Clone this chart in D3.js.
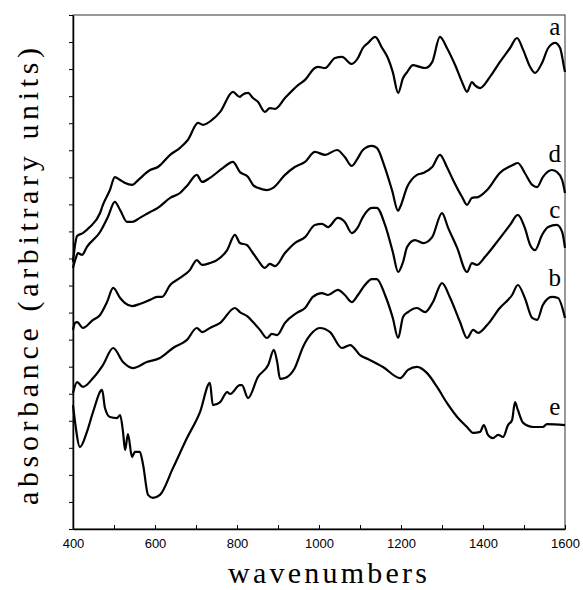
<!DOCTYPE html>
<html>
<head>
<meta charset="utf-8">
<script src="https://cdn.jsdelivr.net/npm/d3@7"></script>
<style>
  body { margin: 0; background: #fff; }
  .axis path, .axis line { stroke: #000; }
  .axis text { font-family: "Liberation Sans", Arial, sans-serif; font-size: 13px; fill: #000; }
</style>
</head>
<body>
<script>
// spectra, [wavenumber, absorbance]
const curveA = [[400,9.87],[405,10.50],[410,10.83],[424,10.94],[441,11.16],[466,11.68],[473,11.98],[490,12.53],[502,13.01],[515,12.90],[527,12.79],[544,12.72],[559,12.90],[588,13.27],[607,13.38],[637,13.83],[661,14.09],[680,14.38],[705,15.01],[717,14.94],[739,15.12],[759,15.42],[790,16.16],[807,15.97],[812,16.04],[827,16.12],[839,15.93],[851,15.79],[868,15.42],[880,15.56],[893,15.53],[917,15.93],[949,16.41],[966,16.60],[990,17.04],[998,17.08],[1015,17.04],[1039,17.41],[1056,17.45],[1080,17.19],[1095,17.41],[1107,17.78],[1120,17.97],[1137,18.19],[1154,17.78],[1168,17.41],[1180,16.89],[1193,16.12],[1205,16.67],[1215,16.89],[1229,17.15],[1246,17.08],[1259,17.04],[1276,17.26],[1295,18.19],[1312,17.78],[1332,17.15],[1349,16.52],[1361,16.16],[1373,16.52],[1380,16.41],[1393,16.30],[1417,16.71],[1441,17.26],[1466,17.78],[1483,18.15],[1498,17.71],[1515,17.08],[1527,16.86],[1544,17.23],[1559,17.78],[1576,17.97],[1588,17.78],[1598,17.04],[1600,16.89]];
const curveD = [[400,9.65],[407,10.02],[412,10.20],[422,10.13],[434,10.43],[466,10.98],[485,11.53],[502,12.09],[515,11.79],[532,11.35],[544,11.35],[563,11.50],[588,11.72],[607,11.87],[637,12.24],[661,12.42],[680,12.72],[702,13.09],[715,12.83],[734,12.98],[766,13.35],[790,13.57],[807,13.20],[827,13.01],[839,12.72],[851,12.61],[873,12.53],[888,12.61],[917,13.09],[941,13.38],[966,13.57],[990,13.94],[1015,13.83],[1044,14.01],[1063,13.75],[1080,13.42],[1095,13.72],[1107,14.01],[1129,14.16],[1141,14.09],[1161,13.35],[1178,12.53],[1193,11.76],[1198,11.90],[1215,12.64],[1239,13.09],[1254,13.16],[1276,13.38],[1295,13.83],[1312,13.38],[1327,12.90],[1349,12.27],[1361,11.98],[1373,12.24],[1388,12.27],[1410,12.53],[1441,13.16],[1473,13.46],[1485,13.53],[1502,13.16],[1520,12.72],[1532,12.64],[1546,13.01],[1568,13.27],[1580,13.20],[1593,12.90],[1600,12.42]];
const curveC = [[400,7.36],[405,7.62],[410,7.65],[424,7.43],[449,7.73],[466,7.91],[483,8.39],[498,8.91],[515,8.54],[527,8.35],[544,8.24],[563,8.32],[588,8.47],[605,8.58],[617,8.58],[637,9.02],[661,9.28],[685,9.57],[702,9.94],[715,9.76],[734,9.83],[751,9.94],[776,10.31],[795,10.87],[807,10.57],[824,10.50],[837,10.24],[851,9.94],[868,9.65],[880,9.80],[893,9.72],[917,10.20],[941,10.57],[966,10.79],[990,11.24],[1007,11.28],[1022,11.16],[1046,11.50],[1063,11.35],[1080,10.94],[1095,11.16],[1107,11.53],[1129,11.87],[1141,11.87],[1161,11.24],[1180,10.24],[1193,9.50],[1205,9.87],[1215,10.43],[1234,10.68],[1254,10.57],[1276,10.79],[1300,11.68],[1315,11.13],[1337,10.39],[1361,9.50],[1373,9.83],[1385,9.76],[1405,10.06],[1434,10.61],[1466,11.24],[1485,11.61],[1502,11.13],[1515,10.50],[1527,10.31],[1544,10.87],[1559,11.16],[1580,11.24],[1593,10.98],[1600,10.39]];
const curveB = [[400,5.03],[410,5.43],[424,5.25],[449,5.58],[473,6.06],[498,6.69],[522,6.17],[546,5.95],[580,6.17],[612,6.32],[644,6.69],[678,6.99],[702,7.43],[715,7.28],[734,7.43],[759,7.62],[795,8.17],[807,8.02],[827,7.84],[839,7.65],[856,7.36],[873,7.06],[885,7.21],[898,7.17],[917,7.62],[946,7.99],[966,8.17],[985,8.58],[1007,8.72],[1022,8.65],[1046,8.84],[1063,8.65],[1080,8.39],[1095,8.65],[1112,9.02],[1129,9.24],[1141,9.24],[1161,8.65],[1180,7.80],[1193,7.06],[1205,7.84],[1217,8.02],[1239,8.17],[1259,8.02],[1278,8.39],[1300,9.09],[1320,8.54],[1344,7.65],[1361,7.06],[1376,7.36],[1388,7.25],[1410,7.54],[1441,8.17],[1471,8.65],[1485,9.02],[1502,8.54],[1520,7.80],[1532,7.73],[1546,8.28],[1568,8.58],[1583,8.54],[1600,7.80]];
const curveE = [[400,4.58],[405,3.96],[417,3.03],[434,3.59],[449,4.33],[471,5.14],[478,4.47],[490,4.14],[507,4.10],[515,4.21],[522,3.59],[527,2.92],[534,3.51],[544,2.66],[551,2.85],[563,2.85],[571,2.37],[583,1.26],[595,1.15],[612,1.26],[644,2.26],[678,3.36],[710,4.33],[734,5.40],[741,4.58],[759,4.69],[776,5.06],[783,4.99],[807,5.32],[812,5.32],[827,4.84],[851,5.62],[876,6.06],[890,6.62],[898,6.17],[905,5.55],[917,5.58],[941,5.95],[961,6.73],[985,7.28],[1002,7.43],[1027,7.28],[1056,6.69],[1076,6.80],[1100,6.43],[1124,6.25],[1156,5.99],[1198,5.58],[1217,5.88],[1239,5.99],[1263,5.77],[1288,5.25],[1312,4.66],[1337,4.14],[1361,3.77],[1376,3.55],[1393,3.59],[1402,3.84],[1412,3.48],[1424,3.36],[1437,3.48],[1449,3.40],[1461,3.84],[1471,4.03],[1478,4.69],[1485,4.40],[1498,3.92],[1522,3.77],[1546,3.77],[1556,3.88],[1600,3.84]];

const seriesNames = ["a", "d", "c", "b", "e"];
const seriesData = [curveA, curveD, curveC, curveB, curveE];
// where each letter sits: [wavenumber, absorbance] of its baseline
const labelPos = [[1575,18.25],[1575,13.55],[1575,11.5],[1575,9.0],[1575,4.2]];

const xTicks = d3.range(400, 1601, 100);
const xLabels = [400, 600, 800, 1000, 1200, 1400, 1600];
const yTicks = d3.range(0, 20, 1);

const width = 583, height = 590;
const margin = {left: 73, right: 18, top: 15, bottom: 61};
const serif = "'Liberation Serif', 'Times New Roman', serif";

const svg = d3.select("body").append("svg")
    .attr("width", width)
    .attr("height", height);

const x = d3.scaleLinear().domain([400, 1600]).range([margin.left, width - margin.right]);
const y = d3.scaleLinear().domain([0, 19]).range([height - margin.bottom, margin.top]);

// frame (top and right are thin)
svg.append("rect")
    .attr("x", x(400)).attr("y", y(19))
    .attr("width", x(1600) - x(400)).attr("height", y(0) - y(19))
    .attr("fill", "none").attr("stroke", "#333").attr("stroke-width", 1);

const xAxis = d3.axisBottom(x)
    .tickValues(xTicks)
    .tickSizeInner(-4)
    .tickSizeOuter(0)
    .tickPadding(10)
    .tickFormat(d => xLabels.includes(d) ? d : "");

svg.append("g")
    .attr("class", "axis")
    .attr("transform", `translate(0, ${y(0)})`)
    .call(xAxis)
    .call(g => g.select(".domain").attr("stroke-width", 1.5));

const yAxis = d3.axisLeft(y)
    .tickValues(yTicks)
    .tickSizeInner(4)
    .tickSizeOuter(0)
    .tickFormat("");

svg.append("g")
    .attr("class", "axis")
    .attr("transform", `translate(${x(400)}, 0)`)
    .call(yAxis)
    .call(g => g.select(".domain").attr("stroke-width", 1.5));

const line = d3.line()
    .x(d => x(d[0]))
    .y(d => y(d[1]))
    .curve(d3.curveMonotoneX);

svg.selectAll(".spectrum")
    .data(seriesData)
    .enter()
    .append("path")
    .attr("class", "spectrum")
    .attr("d", line)
    .attr("fill", "none")
    .attr("stroke", "#000")
    .attr("stroke-width", 2.2)
    .attr("stroke-linejoin", "round");

svg.selectAll(".tag")
    .data(seriesNames)
    .enter()
    .append("text")
    .attr("class", "tag")
    .attr("x", (d, i) => x(labelPos[i][0]))
    .attr("y", (d, i) => y(labelPos[i][1]))
    .attr("text-anchor", "middle")
    .style("font-family", serif)
    .style("font-size", "25px")
    .text(d => d);

// axis titles, letter-spaced like the original typewriter style
svg.append("text")
    .attr("x", 228)
    .attr("y", 583)
    .attr("textLength", 199)
    .attr("lengthAdjust", "spacing")
    .style("font-family", serif)
    .style("font-size", "30px")
    .text("wavenumbers");

svg.append("text")
    .attr("transform", "translate(38, 505) rotate(-90)")
    .attr("textLength", 457)
    .attr("lengthAdjust", "spacing")
    .style("font-family", serif)
    .style("font-size", "30px")
    .text("absorbance (arbitrary units)");
</script>
</body>
</html>
